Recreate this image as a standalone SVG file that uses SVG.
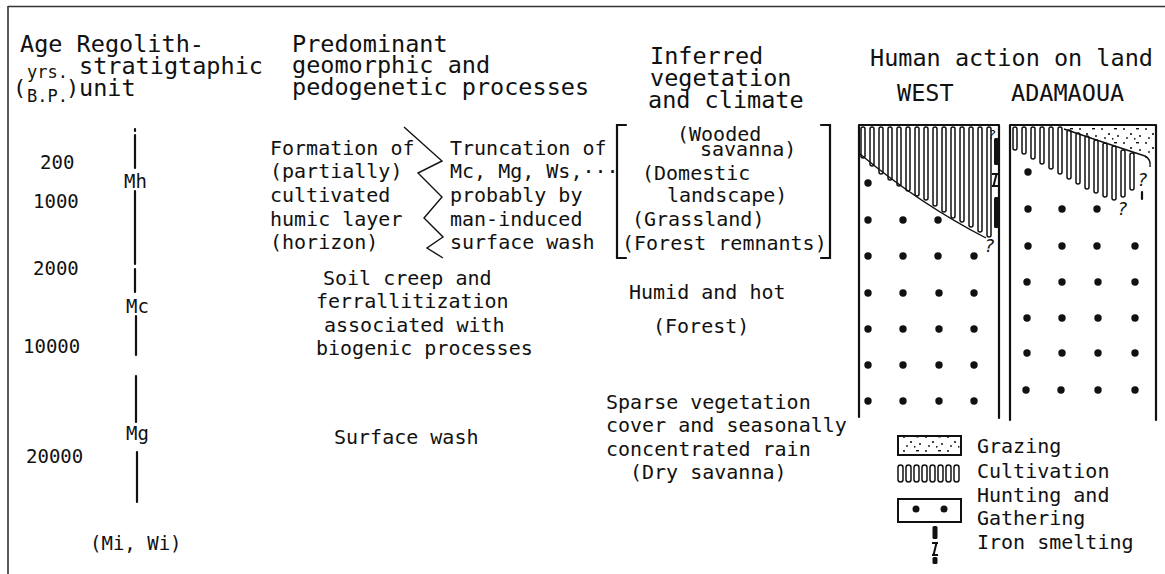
<svg xmlns="http://www.w3.org/2000/svg" width="1165" height="574" viewBox="0 0 1165 574">
  <style>
    text { font-family: "DejaVu Sans Mono", "Liberation Mono", monospace; fill: #111; }
    .hd { font-size: 23.5px; }
    .bd { font-size: 20px; }
    .num { font-size: 19px; }
    .sm { font-size: 17px; }
    .q { font-size: 18px; font-style: italic; }
    .frame { stroke: #333; stroke-width: 1.6; fill: none; }
    .ln { stroke: #111; stroke-width: 2.2; fill: none; stroke-linecap: round; }
    .thin { stroke: #111; stroke-width: 1.4; fill: none; }
    .cult rect { fill: #fff; stroke: #111; stroke-width: 1.5; }
    .dot { fill: #111; }
  </style>
  <defs>
    <pattern id="stipple" width="22" height="14" patternUnits="userSpaceOnUse">
      <circle cx="2" cy="3" r="1" fill="#111"/>
      <circle cx="9" cy="8" r="1.1" fill="#111"/>
      <rect x="14" y="2" width="3" height="1.4" fill="#111"/>
      <circle cx="18" cy="10" r="1" fill="#111"/>
      <circle cx="5" cy="12" r="0.9" fill="#111"/>
      <rect x="12" y="12" width="1.4" height="1.6" fill="#111"/>
    </pattern>
    <!-- iron smelting mark: bar, slanted I, bar -->
    <g id="ironI">
      <path d="M-3,0 H3 M1.5,0 L-1.5,12 M-3,12 H3" stroke="#111" stroke-width="2" fill="none"/>
    </g>
  </defs>

  <rect width="1165" height="574" fill="#fff"/>

  <!-- outer frame (top and left edge) -->
  <g id="frame">
    <line class="frame" x1="8" y1="6.5" x2="1165" y2="6.5"/>
    <line class="frame" x1="8" y1="6" x2="8" y2="574"/>
  </g>

  <!-- column headings -->
  <g id="head-age">
    <text class="hd" x="20" y="52">Age Regolith-</text>
    <text class="hd" x="79" y="74">stratigtaphic</text>
    <text class="hd" x="79" y="96">unit</text>
    <text style="font-size:22px" x="13" y="95">(</text>
    <text style="font-size:22px" x="66" y="95">)</text>
    <text class="sm" x="27" y="78">yrs.</text>
    <text class="sm" x="27" y="102">B.P.</text>
  </g>
  <g id="head-processes">
    <text class="hd" x="292" y="52">Predominant</text>
    <text class="hd" x="292" y="73">geomorphic and</text>
    <text class="hd" x="292" y="95">pedogenetic processes</text>
  </g>
  <g id="head-vegetation">
    <text class="hd" x="650" y="64">Inferred</text>
    <text class="hd" x="650" y="86">vegetation</text>
    <text class="hd" x="648" y="108">and climate</text>
  </g>
  <g id="head-human">
    <text class="hd" x="870" y="66">Human action on land</text>
    <text class="hd" x="897" y="101">WEST</text>
    <text class="hd" x="1011" y="101">ADAMAOUA</text>
  </g>

  <!-- age scale -->
  <g id="ages">
    <text class="num" x="40" y="169">200</text>
    <text class="num" x="33" y="208">1000</text>
    <text class="num" x="33" y="275">2000</text>
    <text class="num" x="23" y="353">10000</text>
    <text class="num" x="26" y="463">20000</text>
  </g>

  <!-- regolith-stratigraphic units -->
  <g id="units">
    <path class="ln" d="M135,129 V131 M135,135 V168 M135,191 V264 M135,269 V292 M136,316 V355 M136,376 V422 M137,452 V502"/>
    <text class="num" x="124" y="188">Mh</text>
    <text class="num" x="126" y="313">Mc</text>
    <text class="num" x="126" y="440">Mg</text>
    <text class="num" x="90" y="550">(Mi, Wi)</text>
  </g>

  <!-- processes: recent -->
  <g id="proc-humic">
    <text class="bd" x="270" y="155">Formation of</text>
    <text class="bd" x="270" y="178">(partially)</text>
    <text class="bd" x="270" y="202">cultivated</text>
    <text class="bd" x="270" y="226">humic layer</text>
    <text class="bd" x="270" y="249">(horizon)</text>
  </g>
  <g id="proc-divider">
    <path class="thin" stroke-width="1.8" d="M404,127 L442,161 L418,173 L442,197 L424,218 L443,237 L427,248 L443,258"/>
  </g>
  <g id="proc-truncation">
    <text class="bd" x="450" y="155">Truncation of</text>
    <text class="bd" x="450" y="178">Mc, Mg, Ws,···</text>
    <text class="bd" x="450" y="202">probably by</text>
    <text class="bd" x="450" y="226">man-induced</text>
    <text class="bd" x="450" y="249">surface wash</text>
  </g>
  <g id="proc-creep">
    <text class="bd" x="323" y="285">Soil creep and</text>
    <text class="bd" x="316" y="308">ferrallitization</text>
    <text class="bd" x="324" y="332">associated with</text>
    <text class="bd" x="316" y="355">biogenic processes</text>
  </g>
  <g id="proc-wash">
    <text class="bd" x="334" y="444">Surface wash</text>
  </g>

  <!-- vegetation and climate -->
  <g id="veg-recent">
    <path class="ln" stroke-width="2" stroke-linecap="butt" d="M626,125 H617 V258 H626 M821,125 H830 V258 H821"/>
    <text class="bd" x="677" y="141">(Wooded</text>
    <text class="bd" x="700" y="156">savanna)</text>
    <text class="bd" x="642" y="180">(Domestic</text>
    <text class="bd" x="667" y="202">landscape)</text>
    <text class="bd" x="632" y="226">(Grassland)</text>
    <text class="bd" x="622" y="250">(Forest remnants)</text>
  </g>
  <g id="veg-humid">
    <text class="bd" x="629" y="299">Humid and hot</text>
    <text class="bd" x="653" y="333">(Forest)</text>
  </g>
  <g id="veg-dry">
    <text class="bd" x="606" y="409">Sparse vegetation</text>
    <text class="bd" x="606" y="432">cover and seasonally</text>
    <text class="bd" x="606" y="456">concentrated rain</text>
    <text class="bd" x="630" y="479">(Dry savanna)</text>
  </g>

  <!-- human action: WEST -->
  <g id="panel-west">
    <g class="cult">
      <rect x="861" y="127" width="4" height="31" rx="2"/>
      <rect x="870" y="127" width="4" height="39" rx="2"/>
      <rect x="879" y="127" width="4" height="47" rx="2"/>
      <rect x="888" y="127" width="4" height="53" rx="2"/>
      <rect x="897" y="127" width="4" height="59" rx="2"/>
      <rect x="906" y="127" width="4" height="64" rx="2"/>
      <rect x="915" y="127" width="4" height="69" rx="2"/>
      <rect x="924" y="127" width="4" height="73" rx="2"/>
      <rect x="933" y="127" width="4" height="79" rx="2"/>
      <rect x="942" y="127" width="4" height="85" rx="2"/>
      <rect x="951" y="127" width="4" height="91" rx="2"/>
      <rect x="960" y="127" width="4" height="95" rx="2"/>
      <rect x="969" y="127" width="4" height="100" rx="2"/>
      <rect x="978" y="127" width="4" height="105" rx="2"/>
      <rect x="987" y="127" width="4" height="110" rx="2"/>
    </g>
    <path class="thin" d="M860,154 Q920,204 986,238"/>
    <path class="ln" d="M859,125 H999 M859,125 V417 M999,125 V418"/>
    <!-- iron smelting marks -->
    <rect x="994" y="138" width="5" height="27" rx="1.5" fill="#111"/>
    <use href="#ironI" x="995" y="174"/>
    <rect x="994" y="197" width="5" height="31" rx="1.5" fill="#111"/>
    <text class="q" style="font-size:13px" x="988" y="139">?</text>
    <text class="q" x="984" y="252">?</text>
    <g class="dot">
      <circle cx="868" cy="183" r="3.7"/>
      <circle cx="868" cy="220" r="3.7"/><circle cx="903" cy="220" r="3.7"/><circle cx="938" cy="220" r="3.7"/>
      <circle cx="868" cy="256" r="3.7"/><circle cx="903" cy="256" r="3.7"/><circle cx="938" cy="256" r="3.7"/><circle cx="974" cy="256" r="3.7"/>
      <circle cx="868" cy="293" r="3.7"/><circle cx="903" cy="293" r="3.7"/><circle cx="939" cy="293" r="3.7"/><circle cx="974" cy="293" r="3.7"/>
      <circle cx="868" cy="329" r="3.7"/><circle cx="903" cy="329" r="3.7"/><circle cx="939" cy="329" r="3.7"/><circle cx="974" cy="329" r="3.7"/>
      <circle cx="868" cy="365" r="3.7"/><circle cx="903" cy="365" r="3.7"/><circle cx="939" cy="365" r="3.7"/><circle cx="974" cy="365" r="3.7"/>
      <circle cx="868" cy="401" r="3.7"/><circle cx="903" cy="401" r="3.7"/><circle cx="939" cy="401" r="3.7"/><circle cx="974" cy="401" r="3.7"/>
    </g>
  </g>

  <!-- human action: ADAMAOUA -->
  <g id="panel-adamaoua">
    <path d="M1062,127 H1155 V160 L1149,159 Q1105,143 1062,127 Z" fill="url(#stipple)"/>
    <g class="cult">
      <rect x="1013" y="127" width="4" height="23" rx="2"/>
      <rect x="1022" y="127" width="4" height="27" rx="2"/>
      <rect x="1031" y="127" width="4" height="32" rx="2"/>
      <rect x="1040" y="127" width="4" height="37" rx="2"/>
      <rect x="1049" y="127" width="4" height="42" rx="2"/>
      <rect x="1058" y="127" width="4" height="47" rx="2"/>
      <rect x="1067" y="130" width="4" height="49" rx="2"/>
      <rect x="1076" y="133" width="4" height="51" rx="2"/>
      <rect x="1085" y="136" width="4" height="53" rx="2"/>
      <rect x="1094" y="140" width="4" height="53" rx="2"/>
      <rect x="1103" y="143" width="4" height="54" rx="2"/>
      <rect x="1112" y="146" width="4" height="54" rx="2"/>
      <rect x="1121" y="150" width="4" height="47" rx="2"/>
      <rect x="1130" y="153" width="4" height="37" rx="2"/>
    </g>
    <path class="thin" d="M1064,129 Q1105,143 1145,156 Q1151,159 1150,167"/>
    <path class="ln" d="M1010,125 H1156 M1010,125 V420 M1156,125 V420"/>
    <path class="ln" d="M1142,192 V199"/>
    <text class="q" x="1137" y="186">?</text>
    <text class="q" x="1117" y="215">?</text>
    <g class="dot">
      <circle cx="1028" cy="172" r="3.7"/>
      <circle cx="1028" cy="209" r="3.7"/><circle cx="1062" cy="209" r="3.7"/><circle cx="1097" cy="209" r="3.7"/>
      <circle cx="1028" cy="246" r="3.7"/><circle cx="1062" cy="246" r="3.7"/><circle cx="1097" cy="246" r="3.7"/><circle cx="1135" cy="246" r="3.7"/>
      <circle cx="1027" cy="282" r="3.7"/><circle cx="1062" cy="282" r="3.7"/><circle cx="1098" cy="282" r="3.7"/><circle cx="1135" cy="282" r="3.7"/>
      <circle cx="1027" cy="318" r="3.7"/><circle cx="1062" cy="318" r="3.7"/><circle cx="1098" cy="318" r="3.7"/><circle cx="1135" cy="318" r="3.7"/>
      <circle cx="1027" cy="353" r="3.7"/><circle cx="1062" cy="353" r="3.7"/><circle cx="1098" cy="353" r="3.7"/><circle cx="1135" cy="353" r="3.7"/>
      <circle cx="1026" cy="390" r="3.7"/><circle cx="1061" cy="390" r="3.7"/><circle cx="1098" cy="390" r="3.7"/><circle cx="1135" cy="390" r="3.7"/>
    </g>
  </g>

  <!-- legend -->
  <g id="legend">
    <rect x="898" y="436" width="63" height="19" fill="url(#stipple)" stroke="#111" stroke-width="2"/>
    <text class="bd" x="977" y="453">Grazing</text>
    <g class="cult">
      <rect x="898" y="465" width="5" height="17" rx="2.5"/>
      <rect x="906" y="465" width="5" height="17" rx="2.5"/>
      <rect x="914" y="465" width="5" height="17" rx="2.5"/>
      <rect x="922" y="465" width="5" height="17" rx="2.5"/>
      <rect x="930" y="465" width="5" height="17" rx="2.5"/>
      <rect x="938" y="465" width="5" height="17" rx="2.5"/>
      <rect x="946" y="465" width="5" height="17" rx="2.5"/>
      <rect x="954" y="465" width="5" height="17" rx="2.5"/>
    </g>
    <text class="bd" x="977" y="478">Cultivation</text>
    <rect x="898" y="499" width="63" height="23" fill="none" stroke="#111" stroke-width="2"/>
    <circle class="dot" cx="916" cy="509" r="3.5"/>
    <circle class="dot" cx="944" cy="509" r="3.5"/>
    <text class="bd" x="977" y="502">Hunting and</text>
    <text class="bd" x="977" y="525">Gathering</text>
    <rect x="932.5" y="526" width="5" height="13" rx="1.5" fill="#111"/>
    <use href="#ironI" x="935" y="543"/>
    <rect x="932.5" y="557" width="5" height="7" rx="1.5" fill="#111"/>
    <text class="bd" x="977" y="549">Iron smelting</text>
  </g>
</svg>
